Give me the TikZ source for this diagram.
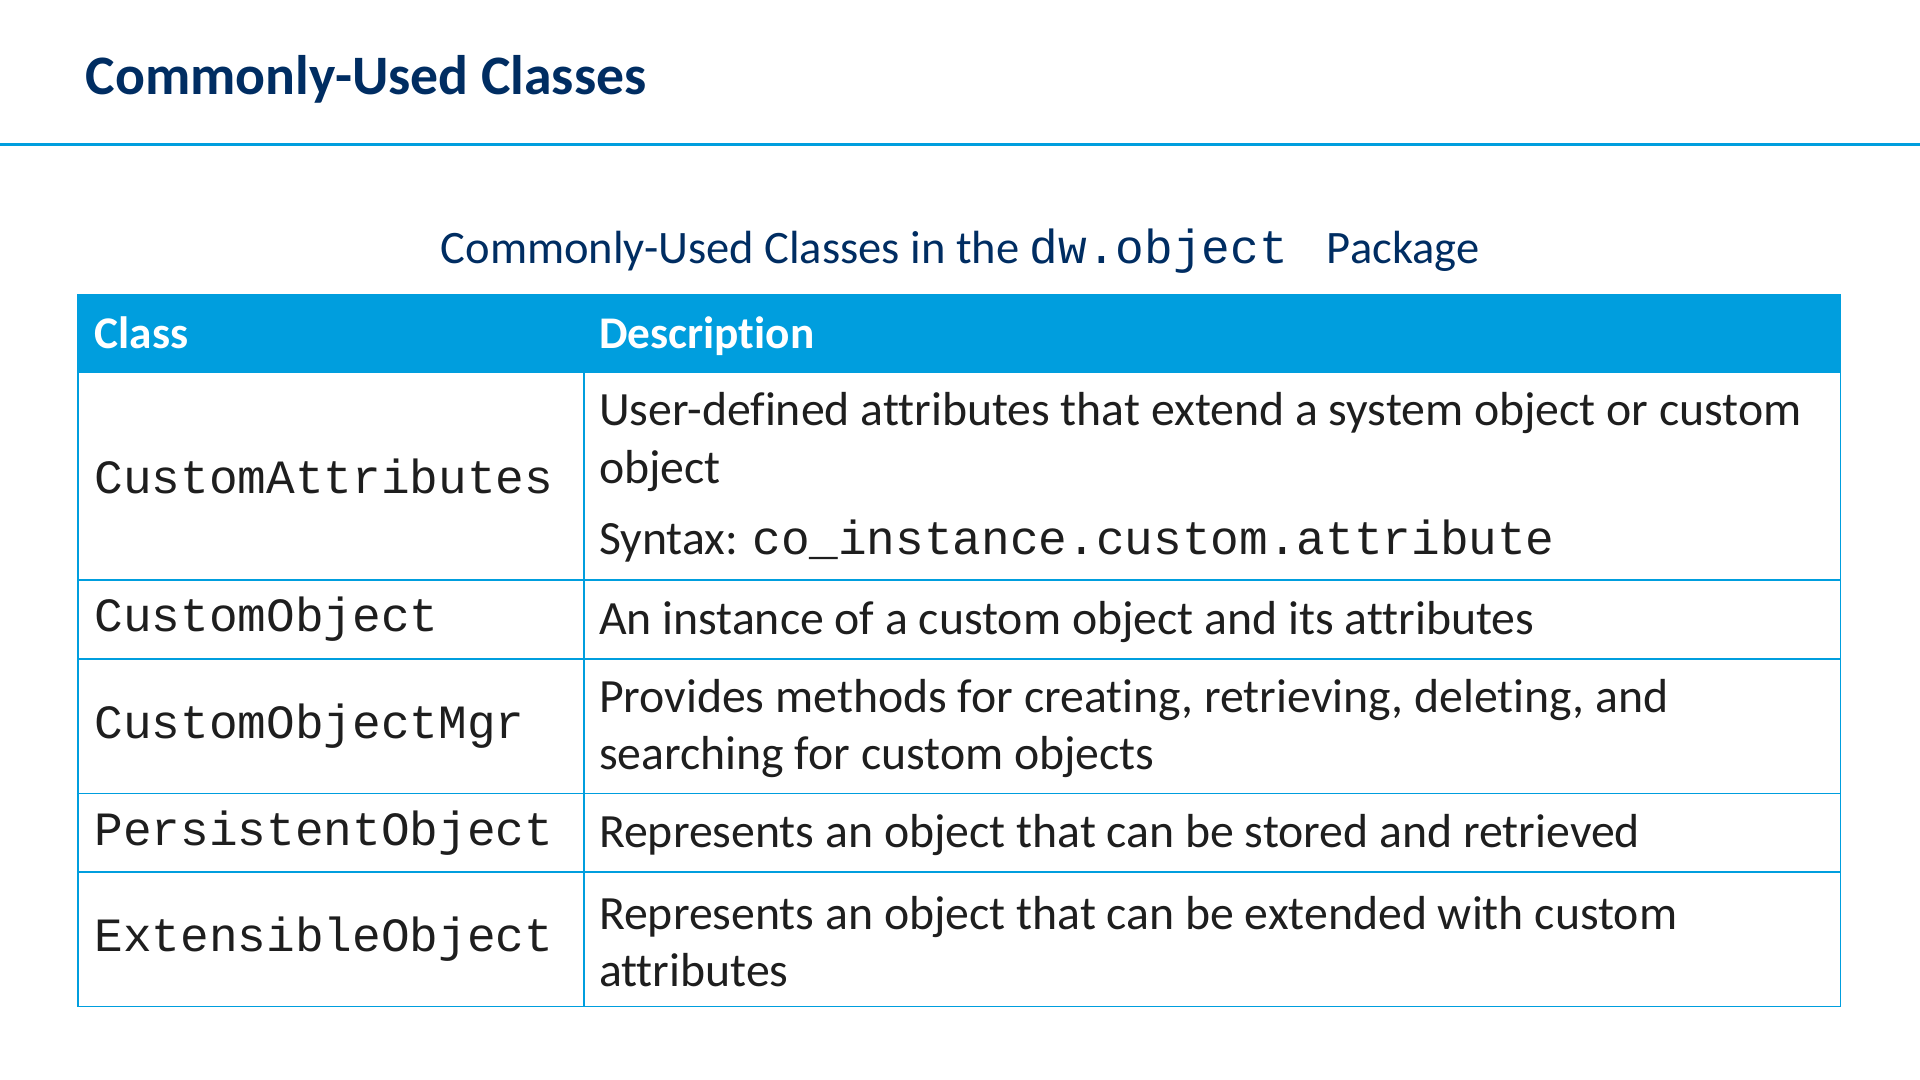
\documentclass[tikz,border=0pt]{standalone}
\usepackage{fontspec}
\setmainfont[Ligatures={NoCommon}]{Carlito}
\setmonofont{Liberation Mono}
\definecolor{navy}{RGB}{0,45,98}
\definecolor{tblue}{RGB}{0,158,222}
\definecolor{txt}{RGB}{30,30,30}
\begin{document}
\begin{tikzpicture}[x=1pt,y=-1pt,
  body/.style={anchor=west,align=left,text=txt,font=\fontsize{39}{47}\selectfont,inner sep=0pt},
  code/.style={anchor=west,text=txt,font=\fontsize{39}{40}\ttfamily,inner sep=0pt},
  hdr/.style={anchor=base west,text=white,font=\fontsize{37}{40}\selectfont\bfseries,inner sep=0pt}]
\useasboundingbox (0,0) rectangle (1568,882);
\node[anchor=base west,text=navy,font=\fontsize{45.5}{50}\selectfont\bfseries,inner sep=0pt] (title) at (70,77) {Commonly-Used Classes};
\draw[tblue,line width=3pt] (0,118) -- (1568,118);
\node[text=navy,font=\fontsize{38}{40}\selectfont,inner sep=0pt] (cap) at (784,205) {Commonly-Used Classes in the {\fontsize{39}{40}\ttfamily dw.object\ } Package};
\fill[tblue] (64,241) rectangle (1503,304);
\draw[tblue,line width=1.5pt] (64,241) rectangle (1503,822);
\foreach \y in {304,474,538,648,712} \draw[tblue,line width=1.5pt] (64,\y) -- (1503,\y);
\draw[tblue,line width=1.5pt] (477,304) -- (477,822);
\node[hdr] (h1) at (77,285) {Class};
\node[hdr] (h2) at (489,285) {Description};
\node[code] (c1) at (77,389) {CustomAttributes};
\node[body] (d1a) at (489,361) {User-defined attributes that extend a system object or custom\\object};
\node[body] (d1b) at (489,442) {Syntax: {\fontsize{39}{40}\ttfamily co\_instance.custom.attribute}};
\node[code] (c2) at (77,506) {CustomObject};
\node[body] (d2) at (489,508) {An instance of a custom object and its attributes};
\node[code] (c3) at (77,593) {CustomObjectMgr};
\node[body] (d3) at (489,595) {Provides methods for creating, retrieving, deleting, and\\searching for custom objects};
\node[code] (c4) at (77,680) {PersistentObject};
\node[body] (d4) at (489,682) {Represents an object that can be stored and retrieved};
\node[code] (c5) at (77,767) {ExtensibleObject};
\node[body] (d5) at (489,769) {Represents an object that can be extended with custom\\attributes};
\end{tikzpicture}
\end{document}
